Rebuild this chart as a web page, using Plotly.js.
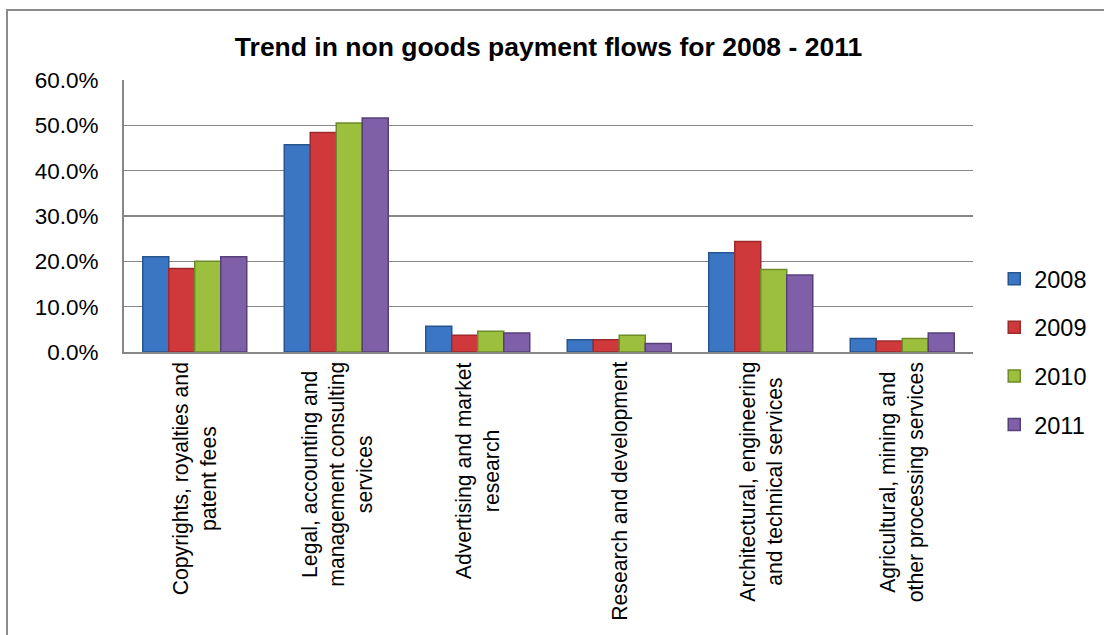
<!DOCTYPE html>
<html>
<head>
<meta charset="utf-8">
<script src="https://cdn.plot.ly/plotly-3.0.1.min.js"></script>
<style>
  html, body { margin: 0; padding: 0; background: #ffffff; }
  #wrap { position: relative; width: 1104px; height: 635px; overflow: hidden; }
  #frame { position: absolute; left: 6px; top: 9px; width: 1200px; height: 700px;
           border-left: 2px solid #8c8c8c; border-top: 2px solid #8c8c8c; pointer-events: none; z-index: 5; }
  #chart { position: absolute; left: 0; top: 0; width: 1104px; height: 635px; }
</style>
</head>
<body>
<div id="wrap">
  <div id="chart"></div>
  <div id="frame"></div>
</div>
<script>
const categories = [
  "Copyrights, royalties and patent fees",
  "Legal, accounting and management consulting services",
  "Advertising and market research",
  "Research and development",
  "Architectural, engineering and technical services",
  "Agricultural, mining and other processing services"
];
const tickLabels = [
  "Copyrights, royalties and<br>patent fees",
  "Legal, accounting and<br>management consulting<br>services",
  "Advertising and market<br>research",
  "Research and development",
  "Architectural, engineering<br>and technical services",
  "Agricultural, mining and<br>other processing services"
];
const seriesNames = ["2008", "2009", "2010", "2011"];
const values2008 = [0.210, 0.457, 0.057, 0.027, 0.219, 0.030];
const values2009 = [0.184, 0.484, 0.037, 0.027, 0.244, 0.024];
const values2010 = [0.200, 0.505, 0.046, 0.037, 0.182, 0.030];
const values2011 = [0.210, 0.516, 0.042, 0.019, 0.170, 0.042];
const yTickValues = [0, 0.1, 0.2, 0.3, 0.4, 0.5, 0.6];

const fills = ["#3B76C4", "#D0393B", "#9CBF3E", "#7E5FA8"];
const edges = ["#27558F", "#9A2A2B", "#6E8B2A", "#57407A"];
const allValues = [values2008, values2009, values2010, values2011];

const traces = allValues.map((vals, i) => ({
  type: "bar",
  name: seriesNames[i],
  legendgroup: seriesNames[i],
  x: categories,
  y: vals,
  marker: { color: fills[i], line: { color: edges[i], width: 1.5 } },
  hoverinfo: "skip"
}));

const annotations = categories.map((c, i) => ({
  x: c, xref: "x",
  y: 0, yref: "y",
  text: tickLabels[i],
  textangle: -90,
  showarrow: false,
  xanchor: "center",
  yanchor: "top",
  align: "center",
  yshift: -8,
  font: { family: "Liberation Sans, Arial, sans-serif", size: 21.2, color: "#000000" }
}));

const layout = {
  width: 1104,
  height: 635,
  paper_bgcolor: "#ffffff",
  plot_bgcolor: "#ffffff",
  margin: { l: 124, r: 131, t: 80, b: 283, pad: 0 },
  font: { family: "Liberation Sans, Arial, sans-serif", color: "#000000" },
  title: {
    text: "<b>Trend in non goods payment flows for 2008 - 2011</b>",
    font: { family: "Liberation Sans, Arial, sans-serif", size: 26.5, color: "#000000" },
    x: 0.5, xref: "paper", xanchor: "center",
    y: 1 - 47 / 635, yref: "container", yanchor: "middle"
  },
  barmode: "group",
  bargap: 0.265,
  bargroupgap: 0,
  xaxis: {
    type: "category",
    showticklabels: false,
    ticks: "",
    showgrid: false,
    showline: true,
    linecolor: "#878787",
    linewidth: 2,
    zeroline: false,
    fixedrange: true
  },
  yaxis: {
    range: [0, 0.6],
    tickvals: yTickValues,
    tickformat: ".1%",
    ticks: "",
    ticklabelstandoff: 19,
    tickfont: { family: "Liberation Sans, Arial, sans-serif", size: 22.5, color: "#000000" },
    showgrid: true,
    gridcolor: "#878787",
    gridwidth: 1.5,
    showline: true,
    linecolor: "#878787",
    linewidth: 2,
    zeroline: false,
    fixedrange: true
  },
  legend: {
    x: 1.025, xanchor: "left",
    y: 0, yanchor: "middle",
    yref: "paper",
    tracegroupgap: 15,
    font: { family: "Liberation Sans, Arial, sans-serif", size: 23.5, color: "#000000" },
    bgcolor: "rgba(0,0,0,0)",
    itemclick: false,
    itemdoubleclick: false
  },
  showlegend: true,
  annotations: annotations
};

Plotly.newPlot("chart", traces, layout, { staticPlot: true, displayModeBar: false });
</script>
</body>
</html>
